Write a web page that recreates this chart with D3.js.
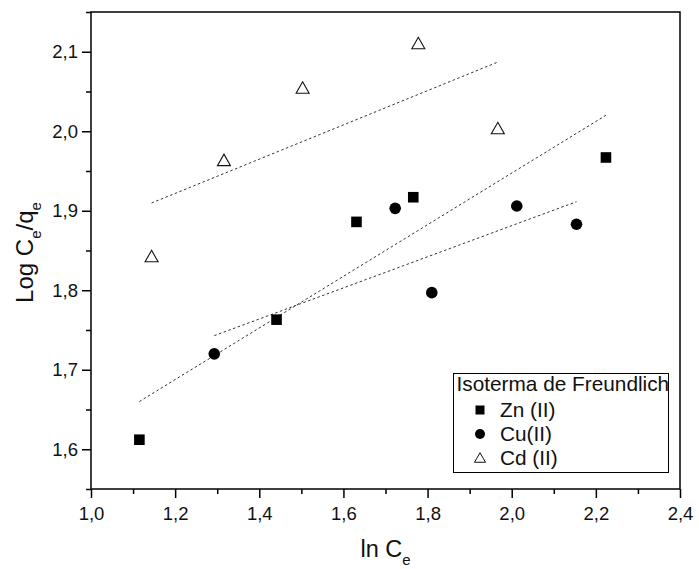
<!DOCTYPE html>
<html>
<head>
<meta charset="utf-8">
<script src="https://cdn.jsdelivr.net/npm/d3@7/dist/d3.min.js"></script>
<style>
  html, body { margin: 0; padding: 0; background: #fff; }
  svg { display: block; font-family: "Liberation Sans", Arial, sans-serif; }
</style>
</head>
<body>
<svg id="chart" width="699" height="569"></svg>
<script>
// Freundlich isotherm data: ln Ce vs log Ce/qe
const znX = [1.115, 1.441, 1.631, 1.766, 2.224];
const znY = [1.612, 1.763, 1.886, 1.917, 1.967];
const cuX = [1.293, 1.723, 1.810, 2.012, 2.154];
const cuY = [1.720, 1.903, 1.797, 1.906, 1.883];
const cdX = [1.144, 1.316, 1.503, 1.778, 1.967];
const cdY = [1.843, 1.964, 2.055, 2.111, 2.004];

const seriesNames = ["Zn (II)", "Cu(II)", "Cd (II)"];
const legendTitle = "Isoterma de Freundlich";

const xMajor = [1.0, 1.2, 1.4, 1.6, 1.8, 2.0, 2.2, 2.4];
const xMinor = [1.1, 1.3, 1.5, 1.7, 1.9, 2.1, 2.3];
const yMajor = [1.6, 1.7, 1.8, 1.9, 2.0, 2.1];
const yMinor = [1.55, 1.65, 1.75, 1.85, 1.95, 2.05, 2.15];

const svg = d3.select("#chart");
const pL = 91, pR = 680, pT = 12, pB = 489;

const x = d3.scaleLinear().domain([1.0, 2.4]).range([pL, pR]);
const y = d3.scaleLinear().domain([1.55, 2.15]).range([pB, pT]);

const locale = d3.formatLocale({ decimal: ",", thousands: ".", grouping: [3], currency: ["", ""] });
const fmt = locale.format(".1f");

// axes: major ticks with labels, minor ticks without
function styleAxis(g) {
  g.select(".domain").remove();
  g.selectAll("line").attr("stroke", "#000").attr("stroke-width", 1.5);
  g.selectAll("text").attr("fill", "#111").style("font-size", "18.5px");
}

svg.append("g").attr("transform", `translate(0,${pB})`)
  .call(d3.axisBottom(x).tickValues(xMajor).tickFormat(fmt).tickSize(9).tickPadding(9))
  .call(styleAxis);
svg.append("g").attr("transform", `translate(0,${pB})`)
  .call(d3.axisBottom(x).tickValues(xMinor).tickFormat("").tickSize(5))
  .call(styleAxis);
svg.append("g").attr("transform", `translate(${pL},0)`)
  .call(d3.axisLeft(y).tickValues(yMajor).tickFormat(fmt).tickSize(9).tickPadding(4))
  .call(styleAxis);
svg.append("g").attr("transform", `translate(${pL},0)`)
  .call(d3.axisLeft(y).tickValues(yMinor).tickFormat("").tickSize(5))
  .call(styleAxis);

// plot frame
svg.append("rect")
  .attr("x", pL).attr("y", pT)
  .attr("width", pR - pL).attr("height", pB - pT)
  .attr("fill", "none").attr("stroke", "#000").attr("stroke-width", 1.5);

// least-squares fit lines over each data range
function fit(xs, ys) {
  const mx = d3.mean(xs), my = d3.mean(ys);
  const sxy = d3.sum(xs, (v, i) => (v - mx) * (ys[i] - my));
  const sxx = d3.sum(xs, v => (v - mx) * (v - mx));
  const b = sxy / sxx, a = my - b * mx;
  const [x0, x1] = d3.extent(xs);
  return [[x0, a + b * x0], [x1, a + b * x1]];
}
const line = d3.line().x(d => x(d[0])).y(d => y(d[1]));
[[znX, znY], [cuX, cuY], [cdX, cdY]].forEach(([xs, ys]) => {
  svg.append("path")
    .attr("d", line(fit(xs, ys)))
    .attr("fill", "none").attr("stroke", "#333")
    .attr("stroke-width", 1).attr("stroke-dasharray", "2.5,2.5");
});

// markers
const tri = (w, h) => `M0,${-h / 2}L${w / 2},${h / 2}L${-w / 2},${h / 2}Z`;
svg.append("g").selectAll("rect").data(znX.map((v, i) => [v, znY[i]]))
  .join("rect")
  .attr("x", d => x(d[0]) - 5.3).attr("y", d => y(d[1]) - 5.3)
  .attr("width", 10.6).attr("height", 10.6).attr("fill", "#000");
svg.append("g").selectAll("circle").data(cuX.map((v, i) => [v, cuY[i]]))
  .join("circle")
  .attr("cx", d => x(d[0])).attr("cy", d => y(d[1]))
  .attr("r", 5.8).attr("fill", "#000");
svg.append("g").selectAll("path").data(cdX.map((v, i) => [v, cdY[i]]))
  .join("path")
  .attr("transform", d => `translate(${x(d[0])},${y(d[1])})`)
  .attr("d", tri(13, 11.5))
  .attr("fill", "#fff").attr("stroke", "#111").attr("stroke-width", 1.1);

// axis titles
const xt = svg.append("text")
  .attr("x", (pL + pR) / 2).attr("y", 556.5)
  .attr("text-anchor", "middle").style("font-size", "23.5px").attr("fill", "#111");
xt.append("tspan").text("ln C");
xt.append("tspan").attr("dy", 8).style("font-size", "15px").text("e");

const yt = svg.append("text")
  .attr("transform", `translate(33,${(pT + pB) / 2 + 2}) rotate(-90)`)
  .attr("text-anchor", "middle").style("font-size", "24px").attr("fill", "#111");
yt.append("tspan").text("Log C");
yt.append("tspan").attr("dy", 8).style("font-size", "15px").text("e");
yt.append("tspan").attr("dy", -8).text("/q");
yt.append("tspan").attr("dy", 8).style("font-size", "15px").text("e");

// legend
const lg = svg.append("g");
lg.append("rect")
  .attr("x", 453.5).attr("y", 373.5).attr("width", 215).attr("height", 99)
  .attr("fill", "#fff").attr("stroke", "#000").attr("stroke-width", 1);
lg.append("text").attr("x", 456.5).attr("y", 390.5)
  .style("font-size", "20.8px").attr("fill", "#111").text(legendTitle);
const rowY = [410, 434, 457.5];
lg.append("rect").attr("x", 475.5).attr("y", rowY[0] - 4.5)
  .attr("width", 9).attr("height", 9).attr("fill", "#000");
lg.append("circle").attr("cx", 480).attr("cy", rowY[1]).attr("r", 5).attr("fill", "#000");
lg.append("path").attr("transform", `translate(480,${rowY[2]})`)
  .attr("d", tri(11, 9.5)).attr("fill", "#fff").attr("stroke", "#111").attr("stroke-width", 1);
seriesNames.forEach((name, i) => {
  lg.append("text").attr("x", 500).attr("y", rowY[i] + 7)
    .style("font-size", "20.8px").attr("fill", "#111").text(name);
});
</script>
</body>
</html>
